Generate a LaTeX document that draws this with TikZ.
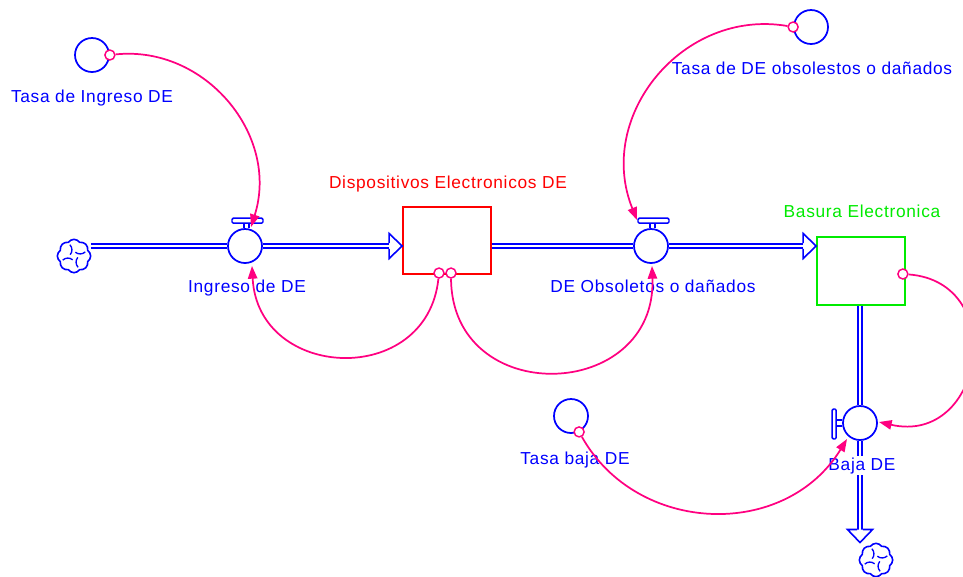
\documentclass[tikz,border=0pt]{standalone}
\usepackage{fontspec}
\setmainfont{Liberation Sans}[LetterSpace=4]
\usetikzlibrary{calc,positioning,shapes.symbols,arrows.meta}
\definecolor{linkpink}{RGB}{255,0,128}
\definecolor{stockgreen}{RGB}{0,235,0}
\tikzset{
  pipe/.style={draw=blue, line width=1.1pt, double=white, double distance=1.9pt},
  aux/.style={circle, draw=blue, line width=1.3pt, minimum size=25.5pt, inner sep=0pt},
  valve/.style={aux, fill=white},
  valvebar/.style={draw=blue, line width=1.1pt},
  stock/.style={rectangle, line width=1.3pt, minimum width=66pt, minimum height=50.5pt, inner sep=0pt},
  lbl/.style={text=blue, fill=white, inner sep=1pt, anchor=base},
  link/.style={draw=linkpink, line width=1.3pt, -{Triangle[length=9.5pt,width=7pt]}},
  tail/.style={circle, draw=linkpink, fill=white, line width=1.1pt, minimum size=7.5pt, inner sep=0pt},
  sink/.style={cloud, cloud puffs=8, cloud puff arc=110, aspect=1, draw=blue, line width=1.2pt, minimum size=25pt, inner sep=0pt},
  pipehead/.pic={\filldraw[fill=white, draw=blue, line width=1.2pt] (0,-2.8) -- (0,-12.5) -- (13,0) -- (0,12.5) -- (0,2.8);},
  swirl/.pic={\foreach \a in {0,90,180,270} \draw[blue, line width=1pt] (\a+20:4) to[bend right=40] (\a+70:12);}
}

\begin{document}
\begin{tikzpicture}[x=0.75pt, y=-0.75pt, font=\fontsize{13pt}{15pt}\selectfont]
\useasboundingbox (0,0) rectangle (963,576);
% niveles
\node[stock, draw=red] (sDE) at (447,240.5) {};
\node[stock, draw=stockgreen, minimum height=51pt] (sBas) at (861,271) {};
% flujos
\node[valve] (vIn) at (245,246) {};
\node[valve] (vObs) at (651,246) {};
\node[valve] (vBaja) at (860,423) {};
% auxiliares
\node[aux] (tIn) at (92,55) {};
\node[aux] (tObs) at (811,27) {};
\node[aux] (tBaja) at (571,416) {};
% nubes
\node[sink] (cIn) at (74,256) {};
\node[sink] (cOut) at (876,560) {};
\pic at (cIn) {swirl};
\pic at (cOut) {swirl};

% tuberias
\draw[pipe] (cIn.east |- vIn) -- (vIn.west);
\draw[pipe, shorten >=9.75pt] (vIn.east) -- (vIn -| sDE.west);
\pic at ($(vIn -| sDE.west)+(-13,0)$) {pipehead};
\draw[pipe] (sDE.east |- vObs) -- (vObs.west);
\draw[pipe, shorten >=9.75pt] (vObs.east) -- (vObs -| sBas.west);
\pic at ($(vObs -| sBas.west)+(-13,0)$) {pipehead};
\draw[pipe] (vBaja |- sBas.south) -- (vBaja.north);
\draw[pipe, shorten >=9.75pt] (vBaja.south) -- (vBaja |- cOut.north);
\pic[rotate=-90] at ($(vBaja |- cOut.north)+(0,-13)$) {pipehead};

% valvulas
\foreach \v in {vIn,vObs} {
  \draw[valvebar, rounded corners=1pt] ($(\v.north)+(-13,-10)$) rectangle ($(\v.north)+(18,-5)$);
  \draw[valvebar] ($(\v.north)+(-1,-5)$) -- ($(\v.north)+(-1,0)$) ($(\v.north)+(4,-5)$) -- ($(\v.north)+(4,0)$);
}
\draw[valvebar, rounded corners=1pt] ($(vBaja.west)+(-10,-14)$) rectangle ($(vBaja.west)+(-6,16)$);
\draw[valvebar] ($(vBaja.west)+(-6,-3)$) -- ($(vBaja.west)+(0,-3)$) ($(vBaja.west)+(-6,3)$) -- ($(vBaja.west)+(0,3)$);

% nombres
\node[lbl] (tInL) at (92,102) {Tasa de Ingreso DE};
\node[lbl, text=red] (sDEL) at (448,188) {Dispositivos Electronicos DE};
\node[lbl] (vInL) at (247,292) {Ingreso de DE};
\node[lbl] (vObsL) at (653,292) {DE Obsoletos o dañados};
\node[lbl, text=stockgreen] (sBasL) at (862,217) {Basura Electronica};
\node[lbl] (tObsL) at (812,74) {Tasa de DE obsolestos o dañados};
\node[lbl] (tBajaL) at (575,464) {Tasa baja DE};
\node[lbl] (vBajaL) at (862,470) {Baja DE};

% conectores
\node[tail] (o1) at (tIn.east) {};
\node[tail] (o2) at ($(sDE.south)+(-8,-2)$) {};
\node[tail] (o3) at ($(sDE.south)+(4,-2)$) {};
\node[tail] (o4) at (tObs.west) {};
\node[tail] (o5) at ($(sBas.east)+(-3,3)$) {};
\node[tail] (o6) at (tBaja.-63) {};
\draw[link] (o1) .. controls +(95,-10) and +(29,-92) .. ($(vIn)+(6,-19)$);
\draw[link] (o2) .. controls +(-12,115) and +(6,115) .. ($(vIn)+(7,20)$);
\draw[link] (o3) .. controls +(1,136) and +(5,136) .. ($(vObs)+(1,20)$);
\draw[link] (o4) .. controls +(-110,-19) and +(-42,-104) .. ($(vObs)+(-14,-26)$);
\draw[link] (o5) .. controls +(107,8) and +(105,24) .. ($(vBaja)+(19,-1)$);
\draw[link] (o6) .. controls +(58,103) and +(-62,101) .. ($(vBaja)+(-13,16)$);
\end{tikzpicture}
\end{document}
